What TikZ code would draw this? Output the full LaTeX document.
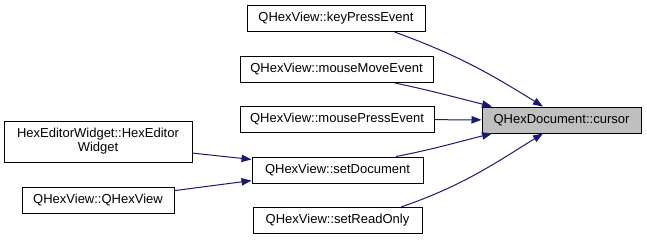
\documentclass[tikz,border=0pt]{standalone}
\usepackage{fontspec}
\setmainfont{Liberation Sans}
\usetikzlibrary{arrows.meta,positioning}
\definecolor{edgeblue}{RGB}{25,25,112}
\definecolor{curgray}{RGB}{191,191,191}

\begin{document}
\begin{tikzpicture}[x=0.75pt,y=-0.75pt,
          fn/.style={draw=black,fill=white,inner sep=0pt,line width=0.75pt,
                     minimum height=19.5pt,align=center,
                     font=\fontsize{9.75}{10.5}\selectfont},
          cur/.style={fn,fill=curgray},
          call/.style={-{Triangle[length=7.5pt,width=5.5pt]},edgeblue,
                       line width=0.75pt}]
        \useasboundingbox (0,0) rectangle (647,240);
        \node[cur,minimum width=119.25pt] (cur) at (561.5,120) {QHexDocument::cursor};
        \node[fn,minimum width=133.5pt] (kp) at (336,18.5) {QHexView::keyPressEvent};
        \node[fn,minimum width=144.75pt] (mm) at (336.5,69.5) {QHexView::mouseMoveEvent};
        \node[fn,minimum width=145.5pt] (mp) at (337,119.5) {QHexView::mousePressEvent};
        \node[fn,minimum width=128.25pt] (sd) at (337.5,170) {QHexView::setDocument};
        \node[fn,minimum width=126.75pt] (sr) at (337.5,220.5) {QHexView::setReadOnly};
        \node[fn,minimum width=141pt,minimum height=30.75pt] (hew) at (98,141.5)
          {HexEditorWidget::HexEditor\\Widget};
        \node[fn,minimum width=114pt] (qhv) at (98,200) {QHexView::QHexView};
        \draw[call] (kp.-13) to[out=-20,in=148] (cur.144);
        \draw[call] (mm.-13) to[out=-12,in=166] (cur.169);
        \draw[call] (mp) -- (cur);
        \draw[call] (sd.13) to[out=11,in=-166] (cur.-169);
        \draw[call] (sr.12) to[out=19,in=-148] (cur.-144);
        \draw[call] (hew.-7) -- (sd.173);
        \draw[call] (qhv.7) -- (sd.187);
      \end{tikzpicture}
\end{document}
